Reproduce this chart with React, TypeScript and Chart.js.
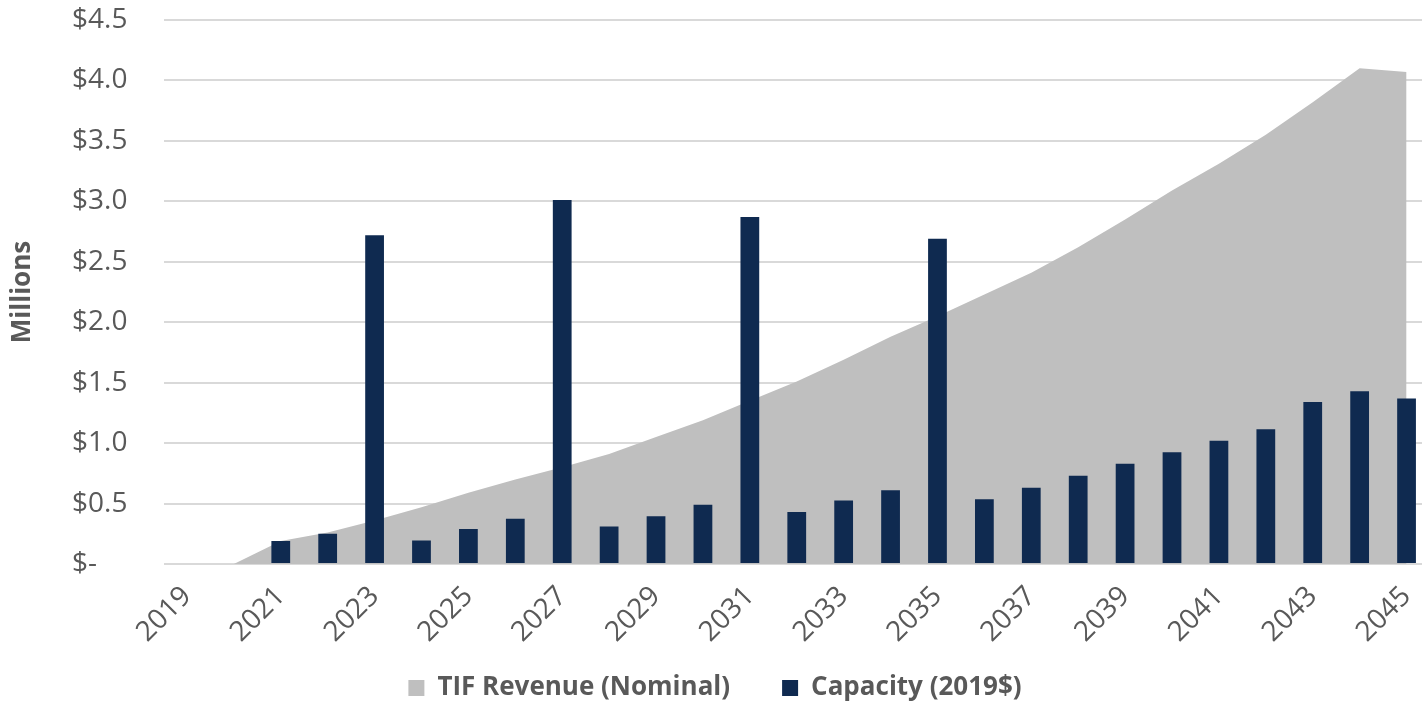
import React, { useEffect, useRef } from "react";
import { Chart, registerables } from "chart.js";

Chart.register(...registerables);

const years: string[] = [
  "2019", "2020", "2021", "2022", "2023", "2024", "2025", "2026", "2027",
  "2028", "2029", "2030", "2031", "2032", "2033", "2034", "2035", "2036",
  "2037", "2038", "2039", "2040", "2041", "2042", "2043", "2044", "2045",
];

const tifRevenue: number[] = [
  0, 0, 0.19, 0.26, 0.36, 0.47, 0.59, 0.7, 0.8, 0.91, 1.05, 1.19, 1.35, 1.51,
  1.69, 1.88, 2.05, 2.23, 2.41, 2.62, 2.85, 3.09, 3.31, 3.55, 3.82, 4.1, 4.07,
];

const capacity: (number | null)[] = [
  null, null, 0.19, 0.25, 2.72, 0.195, 0.29, 0.375, 3.01, 0.31, 0.395, 0.49,
  2.87, 0.43, 0.525, 0.61, 2.69, 0.535, 0.63, 0.73, 0.83, 0.925, 1.02, 1.115,
  1.34, 1.43, 1.37,
];

const seriesNames: string[] = ["TIF Revenue (Nominal)", "Capacity (2019$)"];
const yAxisTitle = "Millions";
const yMin = 0;
const yMax = 4.5;
const yStep = 0.5;

const FONT = "'Open Sans', sans-serif";
const TEXT = "#595959";
const LEGEND_PAD = 52;
const LEGEND_FONT = 26;
const LEGEND_CENTER_Y = 688;

const legendPlacer = {
  id: "legendPlacer",
  afterLayout(chart: any) {
    if (chart.legend) {
      chart.legend.top = LEGEND_CENTER_Y - LEGEND_PAD - LEGEND_FONT / 2;
    }
  },
};

export default function App() {
  const ref = useRef<HTMLCanvasElement>(null);

  useEffect(() => {
    if (!ref.current) return;
    const chart = new Chart(ref.current, {
      type: "bar",
      data: {
        labels: years,
        datasets: [
          {
            type: "line",
            label: seriesNames[0],
            data: tifRevenue,
            backgroundColor: "#bfbfbf",
            borderColor: "#bfbfbf",
            borderWidth: 0,
            pointRadius: 0,
            tension: 0,
            fill: "origin",
            order: 2,
          } as any,
          {
            type: "bar",
            label: seriesNames[1],
            data: capacity,
            backgroundColor: "#0f2a50",
            borderWidth: 0,
            barPercentage: 0.4,
            categoryPercentage: 1,
            order: 1,
          },
        ],
      },
      plugins: [legendPlacer],
      options: {
        responsive: false,
        animation: false,
        layout: { padding: { top: 20, left: 0, right: 24, bottom: 0 } },
        plugins: {
          tooltip: { enabled: false },
          legend: {
            position: "bottom",
            maxHeight: 61,
            labels: {
              color: TEXT,
              font: { family: FONT, size: LEGEND_FONT, weight: "bold" },
              boxWidth: 16,
              boxHeight: 16,
              padding: LEGEND_PAD,
              sort: (a: any, b: any) => a.datasetIndex - b.datasetIndex,
            },
          },
        },
        scales: {
          x: {
            grid: { display: false, drawTicks: false },
            border: { display: false },
            ticks: {
              autoSkip: false,
              maxRotation: 45,
              minRotation: 45,
              padding: 16,
              color: TEXT,
              font: { family: FONT, size: 28 },
              callback: (_v: any, i: number) => (i % 2 === 0 ? years[i] : ""),
            },
            afterFit: (s: any) => {
              s.height = 80;
            },
          },
          y: {
            position: "left",
            weight: 0,
            min: yMin,
            max: yMax,
            grid: { color: "#d9d9d9", lineWidth: 2, drawTicks: false },
            border: { display: false },
            ticks: {
              stepSize: yStep,
              crossAlign: "far",
              padding: 0,
              color: TEXT,
              font: { family: FONT, size: 28 },
              callback: (v: any) => (Number(v) === 0 ? "$-" : "$" + Number(v).toFixed(1)),
            },
            afterFit: (s: any) => {
              s.width = 91.5;
            },
          },
          yt: {
            type: "linear",
            position: "left",
            weight: 10,
            grid: { display: false, drawTicks: false },
            border: { display: false },
            ticks: { display: false },
            title: {
              display: true,
              text: yAxisTitle,
              color: TEXT,
              font: { family: FONT, size: 26, weight: "bold" },
              padding: { top: 7, bottom: 0 },
            },
            afterFit: (s: any) => {
              s.width = 72;
            },
          },
        },
      } as any,
    });
    return () => chart.destroy();
  }, []);

  return (
    <div
      style={{
        position: "absolute",
        left: 0,
        top: 0,
        width: 1422,
        height: 705,
        overflow: "hidden",
        background: "#ffffff",
      }}
    >
      <canvas ref={ref} width={1454} height={705} style={{ display: "block", width: 1454, height: 705 }} />
    </div>
  );
}
